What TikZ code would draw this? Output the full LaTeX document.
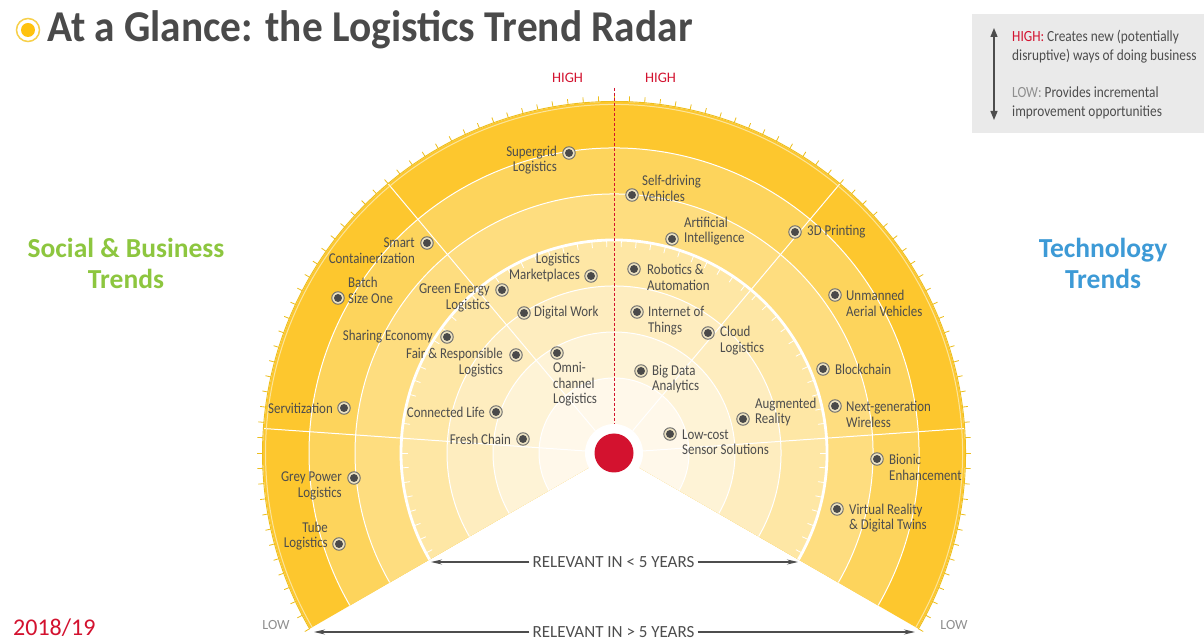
\documentclass[tikz,border=0pt]{standalone}
\usepackage{fontspec}
\usepackage{graphicx}
\setmainfont{Carlito}
\newfontfamily\lblfont{Carlito}[FakeStretch=0.86]
\newfontfamily\ttlfont{Carlito}[FakeStretch=0.94]
\usetikzlibrary{arrows.meta,calc}
\definecolor{b1}{HTML}{FFF8EA}
\definecolor{b2}{HTML}{FEF3D6}
\definecolor{b3}{HTML}{FEEDBF}
\definecolor{b4}{HTML}{FEE7A5}
\definecolor{b5}{HTML}{FEDD7F}
\definecolor{b6}{HTML}{FDD45C}
\definecolor{b7}{HTML}{FDC72E}
\definecolor{tickcol}{HTML}{EDBE1C}
\definecolor{paleedge}{HTML}{FBE49A}
\definecolor{dhlred}{HTML}{D3122F}
\definecolor{txtgray}{HTML}{4D4D4D}
\definecolor{ttlgray}{HTML}{4A4A4A}
\definecolor{lowgray}{HTML}{8F8F8F}
\definecolor{sbgreen}{HTML}{8DC63F}
\definecolor{techblue}{HTML}{3D9AD6}
\definecolor{legbg}{HTML}{EAEAEA}
\definecolor{mkring}{HTML}{6B6B6B}
\definecolor{mkfill}{HTML}{ECE2C2}
\definecolor{mkdot}{HTML}{4A4A4A}
\definecolor{iconring}{HTML}{F7D04A}
\definecolor{iconfill}{HTML}{FFC20E}
\tikzset{
  mk/.style={circle, draw=mkring, line width=0.9pt, fill=mkfill, minimum size=12.5pt, inner sep=0pt,
    path picture={\fill[mkdot] (path picture bounding box.center) circle (4pt);}},
  lbl/.style={font=\lblfont\fontsize{15}{15.5}\selectfont, text=txtgray, inner sep=0pt},
  lblR/.style={lbl, align=right, anchor=east},
  lblL/.style={lbl, align=left, anchor=west},
  trend/.style={font=\bfseries\fontsize{27.5}{31}\selectfont, align=center, inner sep=0pt},
  relarrow/.style={-{Stealth[length=11pt,width=5pt]}, line width=1.1pt, draw=txtgray},
  reltext/.style={font=\fontsize{17}{18}\selectfont, text=txtgray, inner sep=3pt},
  highlbl/.style={font=\fontsize{14.5}{15}\selectfont, text=dhlred, inner sep=0pt},
  lowlbl/.style={font=\fontsize{14}{15}\selectfont, text=lowgray, inner sep=0pt},
  legtext/.style={font=\lblfont\fontsize{15.5}{19}\selectfont, text=txtgray, align=left, anchor=west, inner sep=0pt}
}
\begin{document}
\begin{tikzpicture}[x=1pt,y=1pt]
\useasboundingbox (0,0) rectangle (1204,640);
\fill[white] (0,0) rectangle (1204,640);
\coordinate (C) at (614,187);
% bands
\foreach \r/\c in {351/b7,305/b6,259/b5,213/b4,167/b3,121/b2,75/b1}{
  \fill[\c] (C) -- ++(-30:\r) arc[start angle=-30,end angle=210,radius=\r] -- cycle;
}
% thin ring lines
\foreach \r in {75,121,167,259,305}{
  \draw[white, line width=1pt] (C) ++(-30:\r) arc[start angle=-30,end angle=210,radius=\r];
}
% dividers
\foreach \a in {4,50,130,176}{
  \draw[white, line width=1pt] ($(C)+(\a:29)$) -- ($(C)+(\a:351)$);
}
% thick white ring with inner ticks
\draw[white, line width=2.8pt] (C) ++(-30:213) arc[start angle=-30,end angle=210,radius=213];
\foreach \a in {-28,-24,...,208}{
  \draw[white, line width=0.8pt] ($(C)+(\a:213)$) -- ($(C)+(\a:206)$);
}
% outer edge and ticks
\draw[paleedge, line width=1pt] (C) ++(-30:348.5) arc[start angle=-30,end angle=210,radius=348.5];
\draw[tickcol, line width=0.9pt] (C) ++(-30:351.5) arc[start angle=-30,end angle=210,radius=351.5];
\foreach \a in {-30,-27.5,...,210}{
  \draw[tickcol, line width=0.8pt] ($(C)+(\a:351.5)$) -- ($(C)+(\a:357)$);
}
% centre
\fill[white] (C) circle (29);
\node[circle, fill=dhlred, minimum size=39pt, inner sep=0pt] (core) at (C) {};
\coordinate (dtop) at (614,552);
\coordinate (dbot) at (614,216);
\draw[dhlred, line width=0.8pt, dash pattern=on 3pt off 2pt] (dtop) -- (dbot);
\node[highlbl] (highL) at (567.5,562) {HIGH};
\node[highlbl] (highR) at (660.5,562) {HIGH};
\node[lowlbl] (lowL) at (276,15) {LOW};
\node[lowlbl] (lowR) at (954,15) {LOW};
% markers
\node[mk] (mSupergrid) at (569,487) {};
\node[mk] (mSmart) at (427,397) {};
\node[mk] (mBatch) at (338,342) {};
\node[mk] (mGreen) at (502,350) {};
\node[mk] (mMarket) at (591,364) {};
\node[mk] (mDigital) at (524,327) {};
\node[mk] (mSharing) at (447,303) {};
\node[mk] (mFair) at (516,285) {};
\node[mk] (mOmni) at (557,287) {};
\node[mk] (mServ) at (344,232) {};
\node[mk] (mConn) at (496,228) {};
\node[mk] (mFresh) at (523,201) {};
\node[mk] (mGrey) at (354,162) {};
\node[mk] (mTube) at (339,96) {};
\node[mk] (mSelf) at (632,445) {};
\node[mk] (mAI) at (672,401) {};
\node[mk] (m3D) at (795,408) {};
\node[mk] (mRobot) at (634,371) {};
\node[mk] (mUAV) at (835,345) {};
\node[mk] (mIoT) at (637,328) {};
\node[mk] (mCloud) at (708,307) {};
\node[mk] (mBlock) at (823,271) {};
\node[mk] (mBig) at (641,269) {};
\node[mk] (mAR) at (743,221) {};
\node[mk] (mNext) at (835,234) {};
\node[mk] (mLow) at (670,206) {};
\node[mk] (mBionic) at (877,181) {};
\node[mk] (mVR) at (837,131) {};
% labels left
\node[lblR] (tSupergrid) at (557,480) {Supergrid\\Logistics};
\node[lblR] (tSmart) at (415,389.5) {Smart\\Containerization};
\node[lblL] (tBatch) at (348,349.5) {Batch\\Size One};
\node[lblR] (tGreen) at (490,342) {Green Energy\\Logistics};
\node[lblR] (tMarket) at (580,372.5) {Logistics\\Marketplaces};
\node[lblL] (tDigital) at (534,327) {Digital Work};
\node[lblR] (tSharing) at (433,303) {Sharing Economy};
\node[lblR] (tFair) at (503,277.5) {Fair \& Responsible\\Logistics};
\node[lblL] (tOmni) at (553,255.5) {Omni-\\channel\\Logistics};
\node[lblR] (tServ) at (333,232) {Servitization};
\node[lblR] (tConn) at (485,228) {Connected Life};
\node[lblR] (tFresh) at (511,201) {Fresh Chain};
\node[lblR] (tGrey) at (342,154) {Grey Power\\Logistics};
\node[lblR] (tTube) at (328,104) {Tube\\Logistics};
% labels right
\node[lblL] (tSelf) at (642,451.5) {Self-driving\\Vehicles};
\node[lblL] (tAI) at (684,409) {Artificial\\Intelligence};
\node[lblL] (t3D) at (807,408) {3D Printing};
\node[lblL] (tRobot) at (647,362.5) {Robotics \&\\Automation};
\node[lblL] (tUAV) at (846,336.5) {Unmanned\\Aerial Vehicles};
\node[lblL] (tIoT) at (648,319.5) {Internet of\\Things};
\node[lblL] (tCloud) at (720,299.5) {Cloud\\Logistics};
\node[lblL] (tBlock) at (835,271) {Blockchain};
\node[lblL] (tBig) at (652,261) {Big Data\\Analytics};
\node[lblL] (tAR) at (755,228) {Augmented\\Reality};
\node[lblL] (tNext) at (846,225.5) {Next-generation\\Wireless};
\node[lblL] (tLow) at (682,198) {Low-cost\\Sensor Solutions};
\node[lblL] (tBionic) at (889,172.5) {Bionic\\Enhancement};
\node[lblL] (tVR) at (849,122) {Virtual Reality\\\& Digital Twins};
% relevance arrows
\node[reltext] (rel1) at (613.5,78) {RELEVANT IN < 5 YEARS};
\node[reltext] (rel2) at (613.5,8) {RELEVANT IN > 5 YEARS};
\coordinate (a1L) at (431,78);
\coordinate (a1R) at (798,78);
\coordinate (a2L) at (314,8);
\coordinate (a2R) at (915,8);
\draw[relarrow] (rel1.west) -- (a1L);
\draw[relarrow] (rel1.east) -- (a1R);
\draw[relarrow] (rel2.west) -- (a2L);
\draw[relarrow] (rel2.east) -- (a2R);
% side headings
\node[trend, text=sbgreen] (social) at (126,376.5) {Social \& Business\\Trends};
\node[trend, text=techblue] (tech) at (1103,376.5) {Technology\\Trends};
% title
\node[circle, draw=iconring, line width=1.5pt, minimum size=23pt, inner sep=0pt] (iconR) at (28,610) {};
\node[circle, fill=iconfill, minimum size=14pt, inner sep=0pt] (iconD) at (28,610) {};
\node[font=\ttlfont\bfseries\fontsize{44}{48}\selectfont, text=ttlgray, anchor=base west, inner sep=0pt] (title) at (47,598) {At a Glance: the Logistics Trend Radar};
% legend
\fill[legbg] (972,507) rectangle (1204,626);
\coordinate (legT) at (994,612);
\coordinate (legB) at (994,520);
\draw[{Triangle[length=9pt,width=7pt]}-{Triangle[length=9pt,width=7pt]}, line width=1.3pt, draw=txtgray] (legT) -- (legB);
\node[legtext] (legHigh) at (1012,593.5) {\textcolor{dhlred}{HIGH:} Creates new (potentially\\disruptive) ways of doing business};
\node[legtext] (legLow) at (1012,537.5) {\textcolor{lowgray}{LOW:} Provides incremental\\improvement opportunities};
% year
\node[font=\fontsize{24}{26}\selectfont, text=dhlred, anchor=west, inner sep=0pt] (year) at (13,12) {2018/19};
\end{tikzpicture}
\end{document}
